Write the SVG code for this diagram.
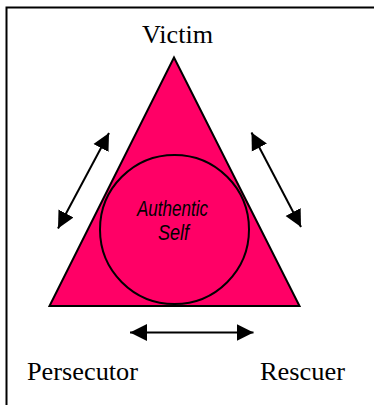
<svg xmlns="http://www.w3.org/2000/svg" width="374" height="405" viewBox="0 0 374 405">
<style>
.lbl{font-family:"Liberation Serif","Times New Roman",serif;font-size:26px;fill:#000}
.in{font-family:"Liberation Sans",Arial,sans-serif;font-size:22px;font-style:italic;fill:#000}
.conn{stroke:#000;stroke-width:2;fill:none;marker-start:url(#ah);marker-end:url(#ah)}
</style>
<defs>
<marker id="ah" viewBox="0 0 10 10" refX="10" refY="5" markerWidth="8.5" markerHeight="9" orient="auto-start-reverse" markerUnits="strokeWidth">
<path d="M0,0 L10,5 L0,10 Z" fill="#000"/>
</marker>
</defs>
<rect width="374" height="405" fill="#fff"/>
<path d="M6.5,405 V7.5 H374" fill="none" stroke="#000" stroke-width="2"/>
<g id="triangle">
<polygon points="174,57.5 49.5,306 299.5,306" fill="#FF0066" stroke="#000" stroke-width="2" stroke-linejoin="miter"/>
</g>
<g id="authentic-self">
<circle cx="174.5" cy="229.5" r="74.5" fill="none" stroke="#000" stroke-width="2"/>
<text class="in" x="172.5" y="215.5" text-anchor="middle" textLength="71" lengthAdjust="spacingAndGlyphs">Authentic</text>
<text class="in" x="173.5" y="240" text-anchor="middle" textLength="31" lengthAdjust="spacingAndGlyphs">Self</text>
</g>
<g id="victim"><text class="lbl" x="142" y="43" textLength="71" lengthAdjust="spacingAndGlyphs">Victim</text></g>
<g id="persecutor"><text class="lbl" x="27" y="380" textLength="111" lengthAdjust="spacingAndGlyphs">Persecutor</text></g>
<g id="rescuer"><text class="lbl" x="260" y="380" textLength="85" lengthAdjust="spacingAndGlyphs">Rescuer</text></g>
<g id="connectors">
<line class="conn" x1="109" y1="133" x2="58" y2="228.5"/>
<line class="conn" x1="251.5" y1="132.5" x2="301" y2="227"/>
<line class="conn" x1="130" y1="332.5" x2="253.5" y2="332.5"/>
</g>
</svg>
